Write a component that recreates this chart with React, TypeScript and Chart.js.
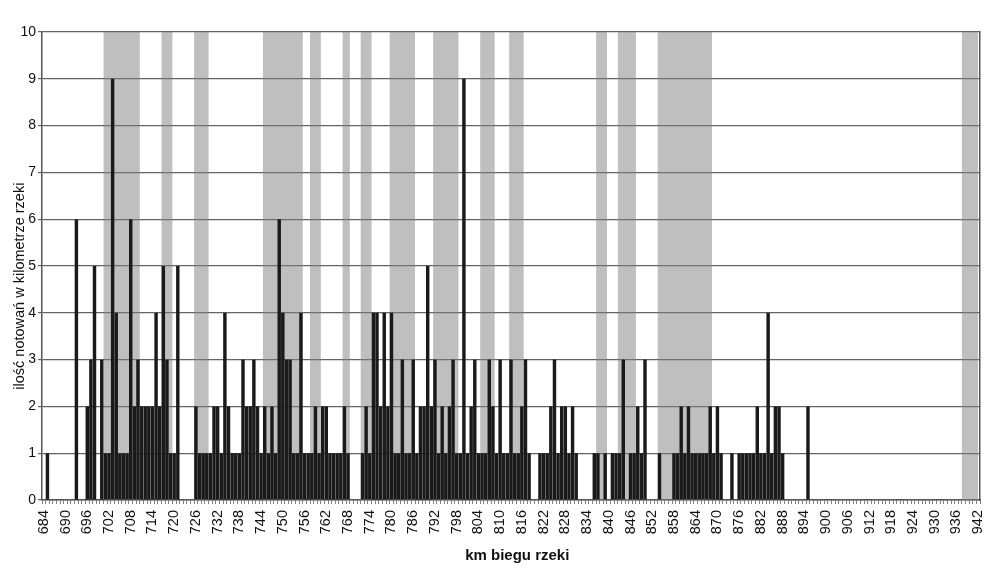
import { useEffect, useRef } from 'react';
import { Chart, registerables } from 'chart.js';

Chart.register(...registerables);

const KM_START = 684;
const KM_END = 942;
const LABEL_STEP = 6;

// km categories 684..942
const categories: string[] = [];
for (let km = KM_START; km <= KM_END; km++) categories.push(String(km));

// number of records per river kilometre (684 .. 942)
const counts: number[] = [
  0, 1, 0, 0, 0, 0, 0, 0, 0, 6, // 684-693
  0, 0, 2, 3, 5, 0, 3, 1, 1, 9, // 694-703
  4, 1, 1, 1, 6, 2, 3, 2, 2, 2, // 704-713
  2, 4, 2, 5, 3, 1, 1, 5, 0, 0, // 714-723
  0, 0, 2, 1, 1, 1, 1, 2, 2, 1, // 724-733
  4, 2, 1, 1, 1, 3, 2, 2, 3, 2, // 734-743
  1, 2, 1, 2, 1, 6, 4, 3, 3, 1, // 744-753
  1, 4, 1, 1, 1, 2, 1, 2, 2, 1, // 754-763
  1, 1, 1, 2, 1, 0, 0, 0, 1, 2, // 764-773
  1, 4, 4, 2, 4, 2, 4, 1, 1, 3, // 774-783
  1, 1, 3, 1, 2, 2, 5, 2, 3, 1, // 784-793
  2, 1, 2, 3, 1, 1, 9, 1, 2, 3, // 794-803
  1, 1, 1, 3, 2, 1, 3, 1, 1, 3, // 804-813
  1, 1, 2, 3, 1, 0, 0, 1, 1, 1, // 814-823
  2, 3, 1, 2, 2, 1, 2, 1, 0, 0, // 824-833
  0, 0, 1, 1, 0, 1, 0, 1, 1, 1, // 834-843
  3, 0, 1, 1, 2, 1, 3, 0, 0, 0, // 844-853
  1, 0, 0, 0, 1, 1, 2, 1, 2, 1, // 854-863
  1, 1, 1, 1, 2, 1, 2, 1, 0, 0, // 864-873
  1, 0, 1, 1, 1, 1, 1, 2, 1, 1, // 874-883
  4, 1, 2, 2, 1, 0, 0, 0, 0, 0, // 884-893
  0, 2, 0, 0, 0, 0, 0, 0, 0, 0, // 894-903
  0, 0, 0, 0, 0, 0, 0, 0, 0, 0, // 904-913
  0, 0, 0, 0, 0, 0, 0, 0, 0, 0, // 914-923
  0, 0, 0, 0, 0, 0, 0, 0, 0, 0, // 924-933
  0, 0, 0, 0, 0, 0, 0, 0, 0,    // 934-942
];

// shaded river sections [from km, to km]
const bandStartKm: number[] = [701, 717, 726, 745, 758, 767, 772, 780, 792, 805, 813, 837, 843, 854, 938];
const bandEndKm: number[] =   [710, 719, 729, 755, 760, 768, 774, 786, 798, 808, 816, 839, 847, 868, 942];
const BAND_VALUE = 10;

const bandValues: number[] = categories.map((c) => {
  const km = Number(c);
  for (let b = 0; b < bandStartKm.length; b++) {
    if (km >= bandStartKm[b] && km <= bandEndKm[b]) return BAND_VALUE;
  }
  return 0;
});

const FONT = "'Liberation Sans', Arial, sans-serif";

export default function App() {
  const ref = useRef<HTMLCanvasElement | null>(null);

  useEffect(() => {
    if (!ref.current) return;
    const chart = new Chart(ref.current, {
      type: 'bar',
      data: {
        labels: categories,
        datasets: [
          {
            label: 'ilość notowań',
            data: counts,
            backgroundColor: '#1a1a1a',
            borderWidth: 0,
            barPercentage: 0.95,
            categoryPercentage: 1,
            grouped: false,
            order: 0,
          },
          {
            type: 'line',
            label: 'odcinki',
            data: bandValues,
            stepped: 'middle',
            fill: 'origin',
            backgroundColor: 'rgba(128,128,128,0.5)',
            borderColor: 'rgba(0,0,0,0)',
            borderWidth: 0,
            pointRadius: 0,
            pointHoverRadius: 0,
            order: 1,
          },
        ],
      },
      options: {
        animation: false,
        responsive: false,
        devicePixelRatio: 1,
        layout: { padding: { top: 32, right: 24, bottom: 0, left: 0 } },
        plugins: {
          legend: { display: false },
          tooltip: { enabled: false },
        },
        scales: {
          x: {
            offset: true,
            grid: {
              display: true,
              offset: true,
              drawOnChartArea: false,
              drawTicks: true,
              tickLength: 4,
              color: '#808080',
            },
            border: { display: true, color: '#555', width: 1.5 },
            ticks: {
              autoSkip: false,
              maxRotation: 90,
              minRotation: 90,
              padding: 6,
              color: '#111',
              font: { family: FONT, size: 14.5 },
              callback: (_v: any, idx: number) => (idx % LABEL_STEP === 0 ? categories[idx] : ''),
            },
            title: {
              display: true,
              text: '   km biegu rzeki',
              color: '#111',
              font: { family: FONT, size: 15, weight: 'bold' },
              padding: { top: 0, bottom: 13 },
            },
            afterFit: (s: any) => {
              s.height = 78;
            },
          },
          y: {
            min: 0,
            max: 10,
            ticks: {
              stepSize: 1,
              padding: 2,
              color: '#111',
              font: { family: FONT, size: 14 },
            },
            grid: { color: '#636363', lineWidth: 1.2, tickLength: 4, drawTicks: true },
            border: { display: true, color: '#555', width: 1.5 },
            title: {
              display: true,
              text: 'ilość notowań w kilometrze rzeki          ',
              color: '#111',
              font: { family: FONT, size: 14.5 },
              padding: { top: 11, bottom: 0 },
            },
            afterFit: (s: any) => {
              s.width = 42;
            },
          },
          yRight: {
            position: 'right',
            display: true,
            min: 0,
            max: 10,
            ticks: { display: false },
            grid: { display: false, drawTicks: false },
            border: { display: true, color: '#555', width: 1.5 },
            afterFit: (s: any) => {
              s.width = 0;
            },
          },
        },
      },
    } as any);
    return () => chart.destroy();
  }, []);

  return (
    <div style={{ position: 'absolute', left: 0, top: 0, width: 1004, height: 578, background: '#fff' }}>
      <canvas ref={ref} width={1004} height={578} style={{ display: 'block' }} />
    </div>
  );
}
